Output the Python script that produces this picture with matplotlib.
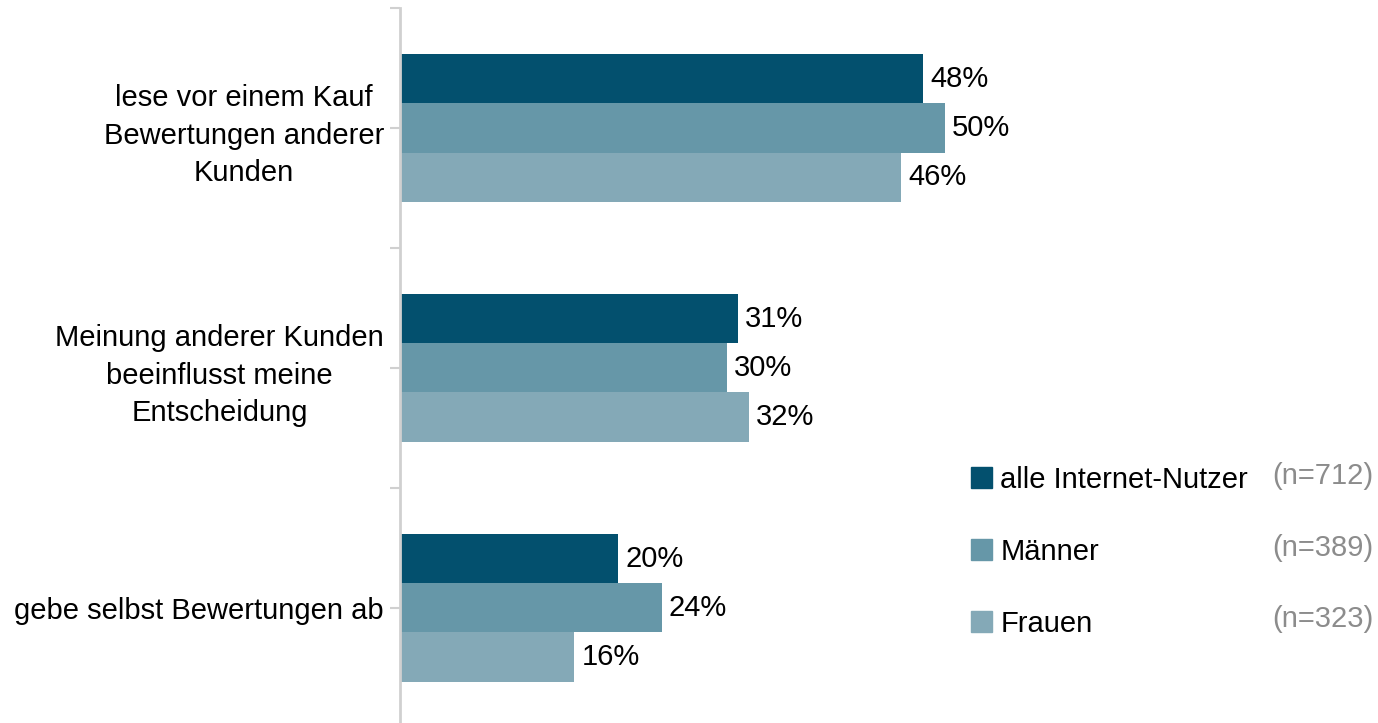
import matplotlib
matplotlib.use("Agg")
import matplotlib.pyplot as plt
import matplotlib.patches as mpatches
import numpy as np

# data
categories = [
    "lese vor einem Kauf\nBewertungen anderer\nKunden",
    "Meinung anderer Kunden\nbeeinflusst meine\nEntscheidung",
    "gebe selbst Bewertungen ab",
]
series_names = ["alle Internet-Nutzer", "Männer", "Frauen"]
sample_sizes = ["(n=712)", "(n=389)", "(n=323)"]
alle = [48, 31, 20]
maenner = [50, 30, 24]
frauen = [46, 32, 16]
colors = ["#03506e", "#6697a8", "#84a9b7"]

plt.rcParams["font.family"] = ["Liberation Sans", "DejaVu Sans"]
FS = 21

W, H = 1378, 723
fig = plt.figure(figsize=(W / 100, H / 100), dpi=100)
# axes spans from the axis line (x=400) to the right edge
ax = fig.add_axes([400 / W, 0, 1 - 400 / W, (H - 8) / H])

y = np.arange(len(categories))
h = 0.205
for i, (vals, col) in enumerate(zip([alle, maenner, frauen], colors)):
    bars = ax.barh(y + (i - 1) * h, vals, height=h, color=col, linewidth=0)
    for b, v in zip(bars, vals):
        ax.text(b.get_width() + 0.65, b.get_y() + b.get_height() / 2, f"{v}%",
                va="center", ha="left", fontsize=FS, color="black")

ax.set_xlim(0, (W - 400) / 10.9)
ax.set_ylim(2.48, -0.5)

for s in ["top", "right", "bottom"]:
    ax.spines[s].set_visible(False)
ax.spines["left"].set_color("#d0d0d0")
ax.spines["left"].set_linewidth(2)
ax.set_xticks([])

ax.set_yticks(y)
ax.set_yticklabels(categories, fontsize=FS)
for lbl in ax.get_yticklabels():
    lbl.set_multialignment("center")
    lbl.set_linespacing(1.42)
ax.set_yticks([-0.5, 0.5, 1.5], minor=True)
ax.tick_params(axis="y", which="both", length=7.5, width=1.5, color="#d0d0d0", pad=4)

# legend
handles = [mpatches.Patch(color=c, label=n) for c, n in zip(colors, series_names)]
fig.legend(handles=handles, loc="upper left", bbox_to_anchor=(971 / W, 1 - 466 / H),
           frameon=False, fontsize=FS, handlelength=0.73, handleheight=0.73,
           handletextpad=0.27, labelspacing=1.5, borderpad=0, borderaxespad=0)
for k, n in enumerate(sample_sizes):
    fig.text(1373 / W, 1 - (476 + k * 71.5) / H, n, ha="right", va="center",
             fontsize=FS, color="#8c8c8c")

fig.savefig("out.png", dpi=100)
